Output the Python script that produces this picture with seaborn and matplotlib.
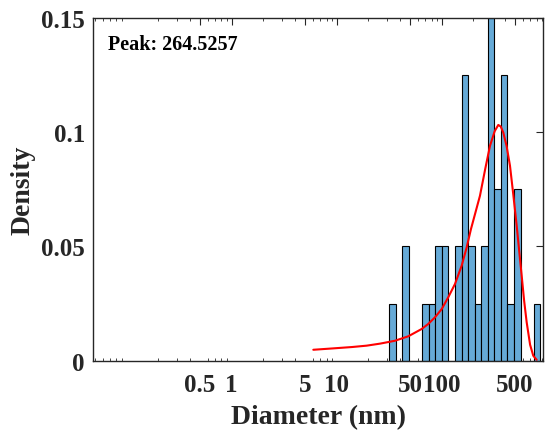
import numpy as np
import pandas as pd
import matplotlib
matplotlib.use("Agg")
import matplotlib.pyplot as plt
from matplotlib.ticker import FixedLocator, LogLocator, NullFormatter
import seaborn as sns

# ---- data ----
bin_lo = 31.7          # first bin edge (nm)
bin_hi = 869.0         # last bin edge (nm)
n_bins = 23
bin_density = [0.025, 0.0, 0.05, 0.0, 0.0, 0.025, 0.025, 0.05, 0.05, 0.0,
               0.05, 0.125, 0.05, 0.025, 0.05, 0.15, 0.075, 0.125, 0.025,
               0.075, 0.0, 0.0, 0.025]

fit_x = [5.99, 9.22, 14.0, 19.3, 26.0, 35.9, 48.1, 64.5, 74.5, 86.3, 100,
         115.6, 133.9, 155, 173, 190, 210, 231.5, 260, 288.5, 320, 346,
         365, 386, 415, 447, 480, 518, 548, 578, 610, 645, 695, 745, 803]
fit_y = [0.0048, 0.0054, 0.0060, 0.0066, 0.0075, 0.00875, 0.0107, 0.0139,
         0.0161, 0.0190, 0.0226, 0.0278, 0.0336, 0.0416, 0.0496, 0.0576,
         0.0650, 0.0722, 0.0840, 0.0941, 0.1005, 0.1032, 0.1025, 0.0999,
         0.0940, 0.0854, 0.0730, 0.0591, 0.0478, 0.0372, 0.0262, 0.0168,
         0.0070, 0.0022, 0.0004]

x_ticks = [0.5, 1, 5, 10, 50, 100, 500]
x_tick_labels = ["0.5", "1", "5", "10", "50", "100", "500"]
y_ticks = [0, 0.05, 0.1, 0.15]
y_tick_labels = ["0", "0.05", "0.1", "0.15"]
peak_label = "Peak: 264.5257"

# ---- build tables ----
log_edges = np.linspace(np.log10(bin_lo), np.log10(bin_hi), n_bins + 1)
centers = 10 ** ((log_edges[:-1] + log_edges[1:]) / 2)
hist_df = pd.DataFrame({"Diameter": centers, "Density": bin_density})
fit_df = pd.DataFrame({"Diameter": fit_x, "Density": fit_y})

sns.set_theme(style="white")
plt.rcParams["font.family"] = ["Liberation Serif", "DejaVu Serif"]
plt.rcParams["font.weight"] = "bold"

fig = plt.figure(figsize=(5.45, 4.39), dpi=100)
ax = fig.add_axes([0.171, 0.176, 0.8253, 0.7807])
ax.set_xscale("log")

sns.histplot(data=hist_df, x="Diameter", weights="Density",
             bins=n_bins, binrange=(log_edges[0], log_edges[-1]),
             stat="count", ax=ax, color="#66AAD7", alpha=1.0,
             edgecolor="black", linewidth=0.8)
sns.lineplot(data=fit_df, x="Diameter", y="Density", ax=ax,
             color="#FF0000", linewidth=1.5)

ax.set_xlim(0.048, 922)
ax.set_ylim(0, 0.15)

ax.xaxis.set_major_locator(FixedLocator(x_ticks))
ax.set_xticklabels(x_tick_labels)
ax.xaxis.set_minor_locator(LogLocator(base=10, subs=np.arange(2, 10)))
ax.xaxis.set_minor_formatter(NullFormatter())
ax.set_yticks(y_ticks)
ax.set_yticklabels(y_tick_labels)

ax.tick_params(axis="both", which="major", direction="in", length=5,
               width=0.8, color="#262626", labelsize=18,
               labelcolor="#262626", top=True, right=True, pad=6)
ax.tick_params(axis="x", which="major", pad=9)
ax.tick_params(axis="x", which="minor", direction="in", length=2.5,
               width=0.6, color="#262626", top=True, bottom=True)
for lab in ax.get_xticklabels() + ax.get_yticklabels():
    lab.set_fontweight("bold")

for s in ax.spines.values():
    s.set_visible(True)
    s.set_color("#262626")
    s.set_linewidth(1.0)

ax.set_xlabel("Diameter (nm)", fontsize=20, fontweight="bold",
              color="#262626", labelpad=6)
ax.set_ylabel("Density", fontsize=20, fontweight="bold",
              color="#262626", labelpad=4)

ax.text(0.033, 0.925, peak_label, transform=ax.transAxes, fontsize=14.5,
        fontweight="bold", color="black", va="center", ha="left")

fig.savefig("out.png", dpi=100)
